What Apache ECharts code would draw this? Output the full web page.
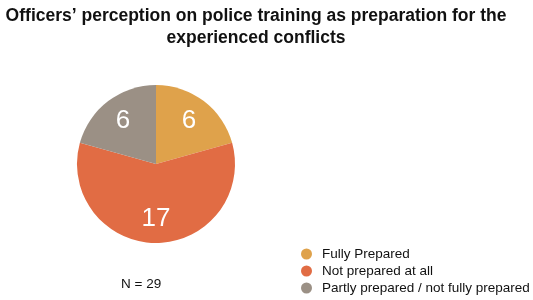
<!DOCTYPE html>
<html>
<head>
<meta charset="utf-8">
<script src="https://cdn.jsdelivr.net/npm/echarts@6/dist/echarts.min.js"></script>
<style>
  html, body { margin: 0; padding: 0; background: #fff; }
  #chart { width: 533px; height: 300px; }
</style>
</head>
<body>
<div id="chart"></div>
<script>
// data
var categories = ['Fully Prepared', 'Not prepared at all', 'Partly prepared / not fully prepared']
var counts = [6, 17, 6]
var colors = ['#DFA24B', '#E16C44', '#9B9085']

var total = counts.reduce(function (a, b) { return a + b }, 0)
var pieData = categories.map(function (name, i) {
  return { name: name, value: counts[i], itemStyle: { color: colors[i] } }
})

var chart = echarts.init(document.getElementById('chart'))
var option = {
  animation: false,
  textStyle: { fontFamily: 'Liberation Sans, Arial, sans-serif' },
  title: {
    text: 'Officers\u2019 perception on police training as preparation for the\nexperienced conflicts',
    left: 251,
    top: 0,
    textAlign: 'center',
    textStyle: {
      fontSize: 17.5,
      fontWeight: 'bold',
      color: '#111',
      lineHeight: 22
    }
  },
  legend: {
    orient: 'vertical',
    left: 301,
    top: 247,
    bottom: 0,
    padding: 0,
    icon: 'circle',
    itemWidth: 11,
    itemHeight: 11,
    itemGap: 3,
    selectedMode: false,
    data: categories,
    textStyle: { fontSize: 13.5, color: '#111', lineHeight: 14, padding: [0, 0, 0, 5] }
  },
  graphic: [{
    type: 'text',
    left: 121,
    top: 277,
    style: { text: 'N = ' + total, fontSize: 13.5, fill: '#111', fontFamily: 'Liberation Sans, Arial, sans-serif' }
  }],
  series: [{
    // the pie itself
    type: 'pie',
    center: [156, 164],
    radius: 79,
    startAngle: 90,
    clockwise: true,
    silent: true,
    label: { show: false },
    labelLine: { show: false },
    data: pieData
  }, {
    // transparent ring used only to place the value labels further out
    type: 'pie',
    center: [156, 164],
    radius: [24, 79],
    startAngle: 90,
    clockwise: true,
    silent: true,
    itemStyle: { color: 'rgba(0,0,0,0)' },
    label: {
      show: true,
      position: 'inside',
      formatter: '{c}',
      color: '#fff',
      fontSize: 26
    },
    labelLine: { show: false },
    data: categories.map(function (name, i) { return { name: name, value: counts[i] } })
  }]
}
chart.setOption(option)
</script>
</body>
</html>
